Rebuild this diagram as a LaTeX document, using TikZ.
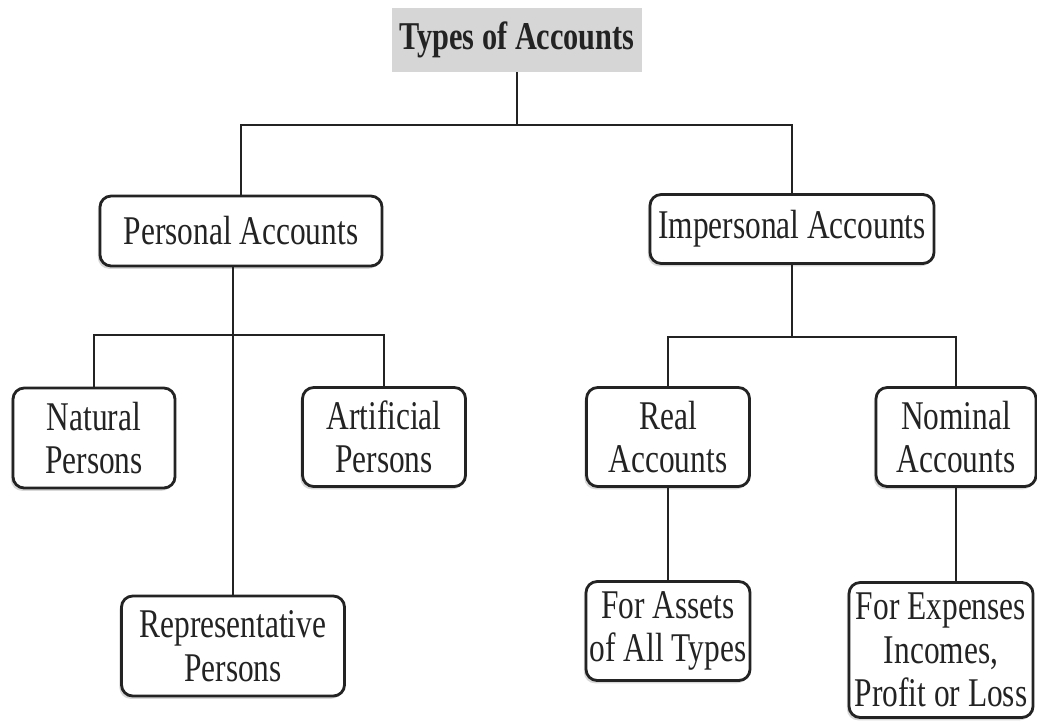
\documentclass[tikz,border=0pt]{standalone}
\usepackage{fontspec}
\setmainfont[FakeStretch=0.77]{Liberation Serif}
\usetikzlibrary{positioning, shadows}
\definecolor{inkgray}{RGB}{35,35,35}
\definecolor{titlegray}{RGB}{214,214,214}

\begin{document}
\begin{tikzpicture}[x=0.025cm, y=-0.025cm,
    acc/.style={draw=inkgray, line width=2pt, rounded corners=8pt, fill=white,
        align=center, text=inkgray, inner sep=0pt,
        font=\fontsize{29}{31}\selectfont,
        drop shadow={shadow xshift=-1.5pt, shadow yshift=-2pt, fill=black!30}},
    link/.style={draw=inkgray, line width=1.5pt}]
    \useasboundingbox (0,0) rectangle (1037,722);

    % --- Title ---
    \node[fill=titlegray, text=inkgray, minimum width=6.225cm, minimum height=1.6cm,
        font=\fontsize{28}{31}\selectfont\bfseries] (types) at (517,40) {Types of Accounts};

    % --- Second level ---
    \node[acc, minimum width=7.05cm, minimum height=1.75cm] (personal) at (241,231) {Personal Accounts};
    \node[acc, minimum width=7.1cm, minimum height=1.725cm] (impersonal) at (792,229) {Impersonal Accounts};

    % --- Personal branch ---
    \node[acc, minimum width=4.05cm, minimum height=2.5cm] (natural) at (94,438) {Natural\\Persons};
    \node[acc, minimum width=4.075cm, minimum height=2.475cm] (artificial) at (384,437) {Artificial\\Persons};
    \node[acc, minimum width=5.575cm, minimum height=2.5cm] (representative) at (233,646) {Representative\\Persons};

    % --- Impersonal branch ---
    \node[acc, minimum width=4.075cm, minimum height=2.475cm] (real) at (668,437) {Real\\Accounts};
    \node[acc, minimum width=4cm, minimum height=2.475cm] (nominal) at (956,437) {Nominal\\Accounts};
    \node[acc, minimum width=4.1cm, minimum height=2.475cm] (assets) at (668,631) {For Assets\\of All Types};
    \node[acc, minimum width=4.6cm, minimum height=3.375cm] (expenses) at (941,650) {For Expenses\\Incomes,\\Profit or Loss};

    % junctions of the bars
    \coordinate (topbar) at (517,125);
    \coordinate (pbar) at (233,335);
    \coordinate (ibar) at (792,337);

    % --- Connectors ---
    \draw[link] (types.south) -- (topbar);
    \draw[link] (personal.north) |- (topbar) -| (impersonal.north);

    \draw[link] (personal.south -| representative.north) -- (representative.north);
    \draw[link] (natural.north) |- (pbar) -| (artificial.north);

    \draw[link] (impersonal.south) -- (ibar);
    \draw[link] (real.north) |- (ibar) -| (nominal.north);
    \draw[link] (real.south) -- (assets.north);
    \draw[link] (nominal.south) -- (nominal.south |- expenses.north);
\end{tikzpicture}
\end{document}
